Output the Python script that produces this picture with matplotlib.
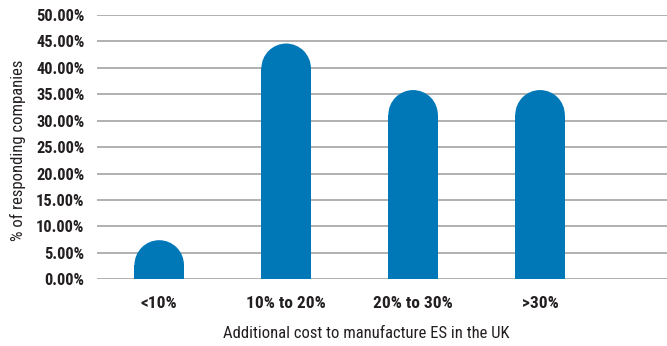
import matplotlib
matplotlib.use("Agg")
import matplotlib.pyplot as plt
from matplotlib.patches import Ellipse
import numpy as np

categories = ["<10%", "10% to 20%", "20% to 30%", ">30%"]
values = [7.4, 44.6, 35.8, 35.8]
yticks = [0, 5, 10, 15, 20, 25, 30, 35, 40, 45, 50]
ytick_labels = ["0.00%", "5.00%", "10.00%", "15.00%", "20.00%", "25.00%",
                "30.00%", "35.00%", "40.00%", "45.00%", "50.00%"]

plt.rcParams['font.family'] = ['Roboto Condensed', 'DejaVu Sans']

W, H = 667, 346
fig = plt.figure(figsize=(W / 100, H / 100), dpi=100)
ax = fig.add_axes([97 / W, (H - 279.3) / H, (W - 97) / W, (279.3 - 15) / H])

bar_color = '#0078B7'
text_color = '#231F20'
bw = 0.39
ax.set_xlim(-0.49, 4.0)
ax.set_ylim(0, 50)

# cap radius in data units (semicircle in pixel space)
px_per_x = (W - 97) / (4.0 + 0.49)
px_per_y = (279.3 - 15) / 50
rx = bw / 2
ry = rx * px_per_x / px_per_y

x = np.arange(len(categories))
for xi, v in zip(x, values):
    ax.bar(xi, v - ry, width=bw, color=bar_color, zorder=3, linewidth=0)
    ax.add_patch(Ellipse((xi, v - ry), 2 * rx, 2 * ry, facecolor=bar_color,
                         edgecolor='none', zorder=3))

ax.set_yticks(yticks)
ax.set_yticklabels(ytick_labels, fontsize=11.8, fontweight=800, color=text_color)
ax.set_xticks(x)
ax.set_xticklabels(categories, fontsize=12.5, fontweight=800, color=text_color)
ax.tick_params(axis='both', length=0)
ax.tick_params(axis='y', pad=9)
ax.tick_params(axis='x', pad=12)

ax.grid(axis='y', color='#A3A3A3', linewidth=1.2, zorder=0)
ax.set_axisbelow(True)
for s in ax.spines.values():
    s.set_visible(False)

fig.text(18 / W, (H - 150) / H, "% of responding companies", rotation=90,
         ha='center', va='center', fontsize=12, color=text_color)
fig.text(366 / W, (H - 334) / H, "Additional cost to manufacture ES in the UK",
         ha='center', va='center', fontsize=12, color=text_color)

fig.savefig("out.png", dpi=100)
